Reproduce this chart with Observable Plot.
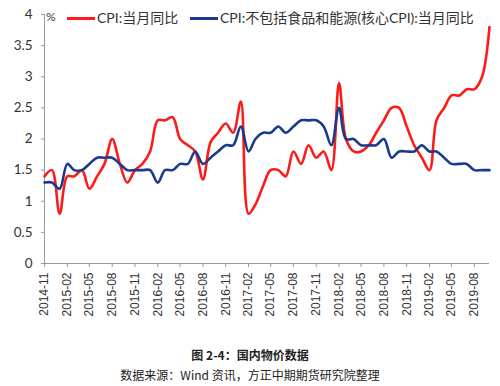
<!DOCTYPE html>
<html>
<head>
<meta charset="utf-8">
<script src="https://cdn.jsdelivr.net/npm/d3@7"></script>
<script src="https://cdn.jsdelivr.net/npm/@observablehq/plot@0.6"></script>
<style>
  body { margin: 0; background: #fff; font-family: Lato, "Noto Sans CJK SC", sans-serif; }
  #wrap { position: relative; width: 500px; }
  .legend { position: absolute; top: 7px; left: 0; font-size: 14px; color: #333; white-space: nowrap; }
  .legend span { position: absolute; top: 0; }
  .swatch { display: inline-block; height: 2.5px; width: 28px; }
  .cap { width: 500px; text-align: center; font-family: "Noto Sans CJK SC", sans-serif; font-size: 12px; color: #222; }
</style>
</head>
<body>
<div id="wrap">
  <div id="chart"></div>
  <div class="legend">
    <span style="left:46px;font-size:12px;top:2px;">%</span>
    <span style="left:67px;top:10px;"><i class="swatch" style="background:#ff1a1a;display:block;"></i></span>
    <span style="left:97px;">CPI:当月同比</span>
    <span style="left:190px;top:10px;"><i class="swatch" style="background:#1c3a8c;display:block;"></i></span>
    <span style="left:220px;">CPI:不包括食品和能源(核心CPI):当月同比</span>
  </div>
</div>
<div class="cap" style="margin-top:14px;font-weight:bold;">图 2-4：国内物价数据</div>
<div class="cap" style="margin-top:3px;">数据来源：Wind 资讯，方正中期期货研究院整理</div>
<script>
const months = [
  "2014-11","2014-12",
  "2015-01","2015-02","2015-03","2015-04","2015-05","2015-06","2015-07","2015-08","2015-09","2015-10","2015-11","2015-12",
  "2016-01","2016-02","2016-03","2016-04","2016-05","2016-06","2016-07","2016-08","2016-09","2016-10","2016-11","2016-12",
  "2017-01","2017-02","2017-03","2017-04","2017-05","2017-06","2017-07","2017-08","2017-09","2017-10","2017-11","2017-12",
  "2018-01","2018-02","2018-03","2018-04","2018-05","2018-06","2018-07","2018-08","2018-09","2018-10","2018-11","2018-12",
  "2019-01","2019-02","2019-03","2019-04","2019-05","2019-06","2019-07","2019-08","2019-09","2019-10"
];
const cpi = [
  1.4,1.5,
  0.8,1.4,1.4,1.5,1.2,1.4,1.6,2.0,1.6,1.3,1.5,1.6,
  1.8,2.3,2.3,2.35,2.0,1.9,1.8,1.35,1.95,2.1,2.25,2.1,
  2.6,0.8,0.95,1.25,1.5,1.5,1.4,1.8,1.6,1.9,1.7,1.8,
  1.5,2.9,2.0,1.8,1.8,1.9,2.1,2.3,2.5,2.5,2.2,1.9,
  1.7,1.5,2.3,2.5,2.7,2.7,2.8,2.8,3.0,3.8
];
const coreCpi = [
  1.3,1.3,
  1.2,1.6,1.5,1.5,1.6,1.7,1.7,1.7,1.6,1.5,1.5,1.5,
  1.5,1.3,1.5,1.5,1.6,1.6,1.8,1.6,1.7,1.8,1.9,1.9,
  2.2,1.8,2.0,2.1,2.1,2.2,2.1,2.2,2.3,2.3,2.3,2.2,
  1.9,2.5,2.0,2.0,1.9,1.9,1.9,2.0,1.7,1.8,1.8,1.8,
  1.9,1.8,1.8,1.7,1.6,1.6,1.6,1.5,1.5,1.5
];
const xTickLabels = ["2014-11","2015-02","2015-05","2015-08","2015-11","2016-02","2016-05","2016-08","2016-11","2017-02","2017-05","2017-08","2017-11","2018-02","2018-05","2018-08","2018-11","2019-02","2019-05","2019-08"];
const yTicks = [0,0.5,1,1.5,2,2.5,3,3.5,4];

const parse = d3.utcParse("%Y-%m");
const rows = months.flatMap((m, i) => [
  {date: parse(m), value: cpi[i], series: "cpi"},
  {date: parse(m), value: coreCpi[i], series: "core"}
]);

const chart = Plot.plot({
  width: 500,
  height: 332,
  marginLeft: 44,
  marginRight: 11,
  marginTop: 14,
  marginBottom: 69,
  style: {fontFamily: "Lato, 'Noto Sans CJK SC', sans-serif", color: "#333", background: "#fff"},
  x: {type: "utc", domain: [parse(months[0]), parse(months[months.length - 1])]},
  y: {domain: [0, 4]},
  color: {domain: ["cpi", "core"], range: ["#ff1a1a", "#1c3a8c"]},
  marks: [
    Plot.axisY({ticks: yTicks, tickFormat: d => `${d}`, tickSize: 3, tickPadding: 9, fontSize: 13.5, label: null, stroke: "#999"}),
    Plot.axisX({ticks: xTickLabels.map(parse), tickFormat: d3.utcFormat("%Y-%m"), tickRotate: -90, tickSize: 4, tickPadding: 5, fontSize: 12, fontFamily: "'Liberation Sans', Arial, sans-serif", label: null, stroke: "#999"}),
    Plot.ruleX([parse(months[0])], {y1: 0, y2: 4, stroke: "#999"}),
    Plot.ruleY([0], {stroke: "#999"}),
    Plot.line(rows, {x: "date", y: "value", z: "series", stroke: "series", strokeWidth: 2.6, curve: "catmull-rom"})
  ]
});
document.getElementById("chart").appendChild(chart);
</script>
</body>
</html>
